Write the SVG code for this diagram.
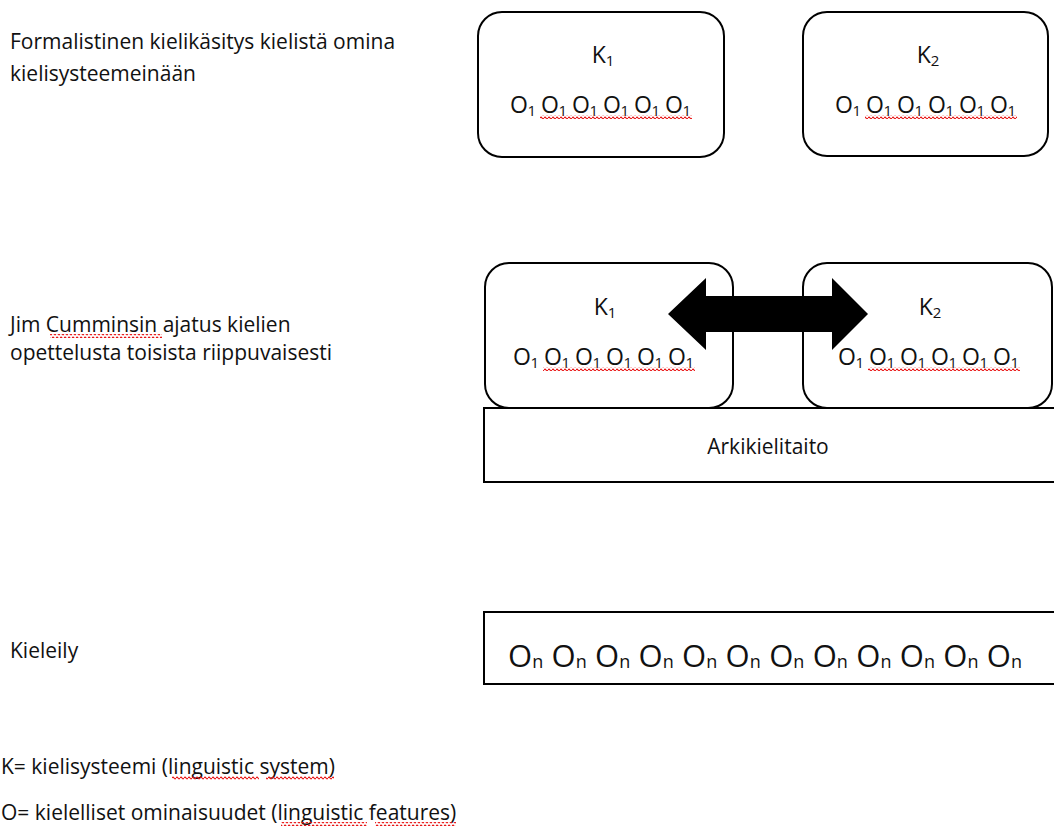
<svg xmlns="http://www.w3.org/2000/svg" width="1054" height="828" viewBox="0 0 1054 828">
<defs>
<style>
.t{font-family:"Open Sans","Noto Sans","Liberation Sans",sans-serif;font-size:21px;fill:#111}
.o{font-family:"Open Sans","Noto Sans","Liberation Sans",sans-serif;font-size:23px;fill:#111}
.k{font-family:"Open Sans","Noto Sans","Liberation Sans",sans-serif;font-size:23px;fill:#111;text-anchor:middle}
.big{font-family:"Open Sans","Noto Sans","Liberation Sans",sans-serif;font-size:31px;fill:#111}
.s{font-size:15px}
.sb{font-size:18px}
.box{fill:#fff;stroke:#000;stroke-width:2}
.rect{fill:#fff;stroke:#000;stroke-width:2}
.sq{fill:url(#squig)}
</style>
<pattern id="squig" patternUnits="userSpaceOnUse" width="4" height="4">
<path d="M0 2 Q1 0.3 2 2 T4 2" fill="none" stroke="#e81010" stroke-width="1.1"/>
</pattern>
</defs>
<rect width="1054" height="828" fill="#fff"/>

<g id="label-formalist">
<text class="t" x="10" y="49">Formalistinen kielikäsitys kielistä omina</text>
<text class="t" x="10" y="81">kielisysteemeinään</text>
</g>

<g id="top-k1">
<rect class="box" x="478" y="12" width="246" height="145" rx="24"/>
<text class="k" x="603" y="63">K<tspan class="s" dy="3">1</tspan></text>
<text class="o" x="510" y="113" textLength="181" lengthAdjust="spacing">O<tspan class="s" dy="3">1</tspan><tspan dy="-3"> O</tspan><tspan class="s" dy="3">1</tspan><tspan dy="-3"> O</tspan><tspan class="s" dy="3">1</tspan><tspan dy="-3"> O</tspan><tspan class="s" dy="3">1</tspan><tspan dy="-3"> O</tspan><tspan class="s" dy="3">1</tspan><tspan dy="-3"> O</tspan><tspan class="s" dy="3">1</tspan></text>
<rect class="sq" x="540" y="115" width="152" height="4"/>
</g>

<g id="top-k2">
<rect class="box" x="803" y="12" width="245" height="144" rx="24"/>
<text class="k" x="928" y="63">K<tspan class="s" dy="3">2</tspan></text>
<text class="o" x="835" y="113" textLength="181" lengthAdjust="spacing">O<tspan class="s" dy="3">1</tspan><tspan dy="-3"> O</tspan><tspan class="s" dy="3">1</tspan><tspan dy="-3"> O</tspan><tspan class="s" dy="3">1</tspan><tspan dy="-3"> O</tspan><tspan class="s" dy="3">1</tspan><tspan dy="-3"> O</tspan><tspan class="s" dy="3">1</tspan><tspan dy="-3"> O</tspan><tspan class="s" dy="3">1</tspan></text>
<rect class="sq" x="865" y="115" width="152" height="4"/>
</g>

<g id="label-cummins">
<text class="t" x="10" y="332">Jim Cumminsin ajatus kielien</text>
<text class="t" x="10" y="360">opettelusta toisista riippuvaisesti</text>
<rect class="sq" x="50" y="334" width="112" height="4"/>
</g>

<g id="arkikielitaito">
<rect class="rect" x="484" y="408" width="580" height="74"/>
<text class="t" x="768" y="454" text-anchor="middle">Arkikielitaito</text>
</g>

<g id="mid-k1">
<rect class="box" x="485" y="263" width="248" height="145" rx="24"/>
<text class="k" x="605" y="315">K<tspan class="s" dy="3">1</tspan></text>
<text class="o" x="513" y="365" textLength="181" lengthAdjust="spacing">O<tspan class="s" dy="3">1</tspan><tspan dy="-3"> O</tspan><tspan class="s" dy="3">1</tspan><tspan dy="-3"> O</tspan><tspan class="s" dy="3">1</tspan><tspan dy="-3"> O</tspan><tspan class="s" dy="3">1</tspan><tspan dy="-3"> O</tspan><tspan class="s" dy="3">1</tspan><tspan dy="-3"> O</tspan><tspan class="s" dy="3">1</tspan></text>
<rect class="sq" x="543" y="367" width="152" height="4"/>
</g>

<g id="mid-k2">
<rect class="box" x="803" y="263" width="249" height="145" rx="24"/>
<text class="k" x="930" y="315">K<tspan class="s" dy="3">2</tspan></text>
<text class="o" x="838" y="365" textLength="181" lengthAdjust="spacing">O<tspan class="s" dy="3">1</tspan><tspan dy="-3"> O</tspan><tspan class="s" dy="3">1</tspan><tspan dy="-3"> O</tspan><tspan class="s" dy="3">1</tspan><tspan dy="-3"> O</tspan><tspan class="s" dy="3">1</tspan><tspan dy="-3"> O</tspan><tspan class="s" dy="3">1</tspan><tspan dy="-3"> O</tspan><tspan class="s" dy="3">1</tspan></text>
<rect class="sq" x="868" y="367" width="152" height="4"/>
</g>

<g id="connectors">
<polygon points="668,314 706,278 706,296 832,296 832,278 868,314 832,350 832,332 706,332 706,350" fill="#000"/>
</g>

<g id="label-kieleily">
<text class="t" x="10" y="658">Kieleily</text>
</g>

<g id="kieleily">
<rect class="rect" x="484" y="612" width="580" height="72"/>
<text class="big" x="508" y="667" textLength="514" lengthAdjust="spacing">O<tspan class="sb" dy="1">n</tspan><tspan dy="-1"> O</tspan><tspan class="sb" dy="1">n</tspan><tspan dy="-1"> O</tspan><tspan class="sb" dy="1">n</tspan><tspan dy="-1"> O</tspan><tspan class="sb" dy="1">n</tspan><tspan dy="-1"> O</tspan><tspan class="sb" dy="1">n</tspan><tspan dy="-1"> O</tspan><tspan class="sb" dy="1">n</tspan><tspan dy="-1"> O</tspan><tspan class="sb" dy="1">n</tspan><tspan dy="-1"> O</tspan><tspan class="sb" dy="1">n</tspan><tspan dy="-1"> O</tspan><tspan class="sb" dy="1">n</tspan><tspan dy="-1"> O</tspan><tspan class="sb" dy="1">n</tspan><tspan dy="-1"> O</tspan><tspan class="sb" dy="1">n</tspan><tspan dy="-1"> O</tspan><tspan class="sb" dy="1">n</tspan></text>
</g>

<g id="legend">
<text class="t" x="1" y="774">K= kielisysteemi (linguistic system)</text>
<text class="t" x="1" y="820">O= kielelliset ominaisuudet (linguistic features)</text>
<rect class="sq" x="172" y="776" width="87" height="4"/>
<rect class="sq" x="266" y="776" width="68" height="4"/>
<rect class="sq" x="281" y="822" width="86" height="4"/>
<rect class="sq" x="375" y="822" width="81" height="4"/>
</g>
</svg>
